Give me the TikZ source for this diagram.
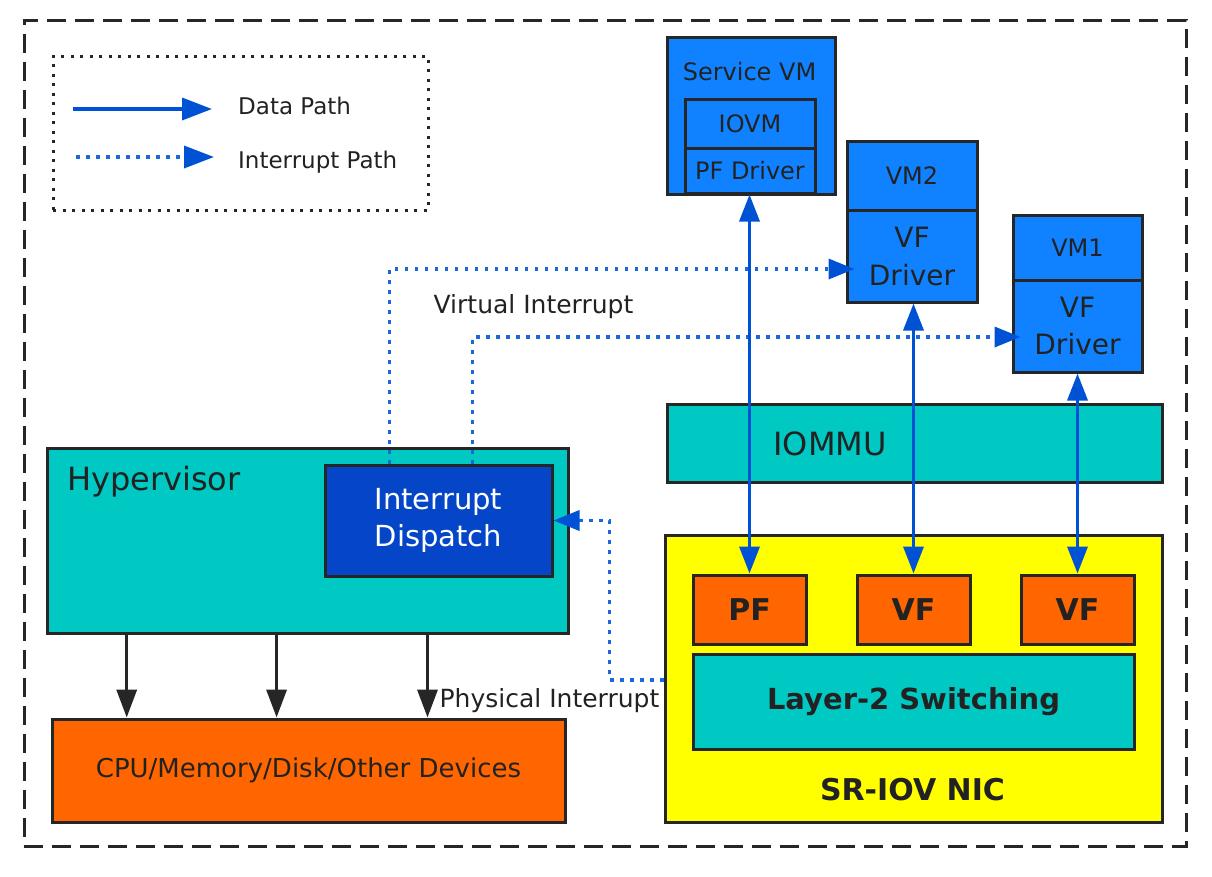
\documentclass[tikz,border=0pt]{standalone}
\usepackage{fontspec}
\setmainfont{DejaVu Sans}
\usetikzlibrary{arrows.meta,calc}
\definecolor{vmblue}{RGB}{17,130,255}
\definecolor{dispblue}{RGB}{5,70,200}
\definecolor{tealc}{RGB}{0,200,195}
\definecolor{orng}{RGB}{255,102,0}
\definecolor{ylw}{RGB}{255,255,0}
\definecolor{arrblue}{RGB}{0,82,212}
\definecolor{dotblue}{RGB}{25,105,220}
\definecolor{edgec}{RGB}{38,38,38}
\definecolor{txtc}{RGB}{34,34,34}
\newcommand{\fsz}[2]{\fontsize{#1pt}{#2pt}\selectfont}
\tikzset{
  box/.style={draw=edgec, line width=3pt, inner sep=0pt, text=txtc, align=center},
  lbl/.style={inner sep=0pt, text=txtc},
  data/.style={draw=arrblue, line width=3.5pt,
    {Triangle[length=27pt,width=20pt,color=arrblue]}-{Triangle[length=27pt,width=20pt,color=arrblue]}},
  blk/.style={draw=edgec, line width=3.5pt, -{Triangle[length=28pt,width=20pt,color=edgec]}},
  intr/.style={draw=dotblue, line width=3.5pt, dash pattern=on 3.5pt off 6.5pt,
    -{Triangle[length=26pt,width=20pt,color=arrblue]}}
}
\begin{document}
\begin{tikzpicture}[x=1pt,y=-1pt]
\useasboundingbox (0,0) rectangle (1212,876);
% outer frame
\node[draw=edgec, line width=3pt, dash pattern=on 19pt off 9pt, minimum width=1162pt, minimum height=826pt, inner sep=0pt] (frame) at (605,433) {};
% legend
\node[draw=edgec, line width=3pt, dash pattern=on 3pt off 6.5pt, minimum width=375pt, minimum height=154pt, inner sep=0pt] (legend) at (240.5,133) {};
\coordinate (ld1) at (73,109);
\coordinate (ld2) at (212,109);
\draw[draw=arrblue, line width=3.5pt, -{Triangle[length=30pt,width=22pt,color=arrblue]}] (ld1) -- (ld2);
\node[lbl, anchor=base west, font=\fsz{23}{28}] (ldt) at (238,114) {Data Path};
\coordinate (li1) at (76,157);
\coordinate (li2) at (214,157);
\draw[intr, -{Triangle[length=30pt,width=22pt,color=arrblue]}] (li1) -- (li2);
\node[lbl, anchor=base west, font=\fsz{23}{28}] (lit) at (238,168) {Interrupt Path};
% Service VM
\node[box, fill=vmblue, minimum width=168pt, minimum height=157pt] (svm) at (751,115.5) {};
\node[lbl, anchor=base, font=\fsz{24}{29}] (svmt) at (749.5,80) {Service VM};
\node[box, fill=vmblue, minimum width=130pt, minimum height=49pt, font=\fsz{24}{29}] (iovm) at (750,123.5) {IOVM};
\node[box, fill=vmblue, minimum width=130pt, minimum height=45pt, font=\fsz{24}{29}] (pfd) at (750,170.5) {PF Driver};
% VM2
\node[box, fill=vmblue, minimum width=130pt, minimum height=69pt, font=\fsz{24}{29}] (vm2t) at (912,175.5) {VM2};
\node[box, fill=vmblue, minimum width=130pt, minimum height=92pt, font=\fsz{28}{38}] (vm2b) at (912,256) {VF\\Driver};
% VM1
\node[box, fill=vmblue, minimum width=129pt, minimum height=65pt, font=\fsz{24}{29}] (vm1t) at (1077.5,247.5) {VM1};
\node[box, fill=vmblue, minimum width=129pt, minimum height=92pt, font=\fsz{28}{37}] (vm1b) at (1077.5,326) {VF\\Driver};
% IOMMU
\node[box, fill=tealc, minimum width=495pt, minimum height=78pt] (iommu) at (914.5,443) {};
\node[lbl, anchor=base, font=\fsz{32}{38}] (iommut) at (830,455) {IOMMU};
% Hypervisor
\node[box, fill=tealc, minimum width=521pt, minimum height=185pt] (hyp) at (307.5,540.5) {};
\node[lbl, anchor=base west, font=\fsz{32}{38}] (hypt) at (67,490) {Hypervisor};
\node[box, fill=dispblue, text=white, minimum width=227pt, minimum height=111pt, font=\fsz{29}{37}] (disp) at (438.5,520.5) {Interrupt\\Dispatch};
% CPU
\node[box, fill=orng, minimum width=513pt, minimum height=103pt, font=\fsz{26}{31}] (cpu) at (308.5,770.5) {CPU/Memory/Disk/Other Devices};
% NIC
\node[box, fill=ylw, minimum width=497pt, minimum height=287pt] (nic) at (913.5,678.5) {};
\node[lbl, anchor=base, font=\bfseries\fsz{30}{36}] (nict) at (912.5,800) {SR-IOV NIC};
\node[box, fill=orng, minimum width=113pt, minimum height=69pt, font=\bfseries\fsz{30}{36}] (pf) at (749.5,609.5) {PF};
\node[box, fill=orng, minimum width=113pt, minimum height=69pt, font=\bfseries\fsz{30}{36}] (vf2) at (913.5,609.5) {VF};
\node[box, fill=orng, minimum width=113pt, minimum height=69pt, font=\bfseries\fsz{30}{36}] (vf1) at (1077.5,609.5) {VF};
\node[box, fill=tealc, minimum width=441pt, minimum height=95pt, font=\bfseries\fsz{29}{35}] (l2) at (913.5,701.5) {Layer-2 Switching};
% black arrows
\coordinate (b1) at ($(hyp.south west)!0.155!(hyp.south east)$);
\coordinate (b2) at ($(hyp.south west)!0.441!(hyp.south east)$);
\coordinate (b3) at ($(hyp.south west)!0.729!(hyp.south east)$);
\draw[blk] (b1) -- (b1 |- cpu.north);
\draw[blk] (b2) -- (b2 |- cpu.north);
\draw[blk] (b3) -- (b3 |- cpu.north);
% interrupt paths
\coordinate (pi) at ($(nic.north west)!0.505!(nic.south west)$);
\draw[intr] (pi) -| ([xshift=56pt]disp.east) -- (disp.east);
\coordinate (v1) at ($(disp.north west)!0.286!(disp.north east)$);
\coordinate (v2) at ($(disp.north west)!0.648!(disp.north east)$);
\draw[intr] (v1) |- ([xshift=9pt,yshift=-13pt]vm2b.west);
\draw[intr] (v2) |- ([xshift=9pt,yshift=-11pt]vm1b.west);
% data arrows
\draw[data] (pfd.south -| pf.north) -- (pf.north);
\draw[data] (vm2b.south -| vf2.north) -- (vf2.north);
\draw[data] (vm1b.south -| vf1.north) -- (vf1.north);
% labels
\node[lbl, anchor=base, font=\fsz{25}{30}] (vit) at (533.5,313) {Virtual Interrupt};
\node[lbl, anchor=base, font=\fsz{25}{30}] (pit) at (549.5,707) {Physical Interrupt};
\end{tikzpicture}
\end{document}
